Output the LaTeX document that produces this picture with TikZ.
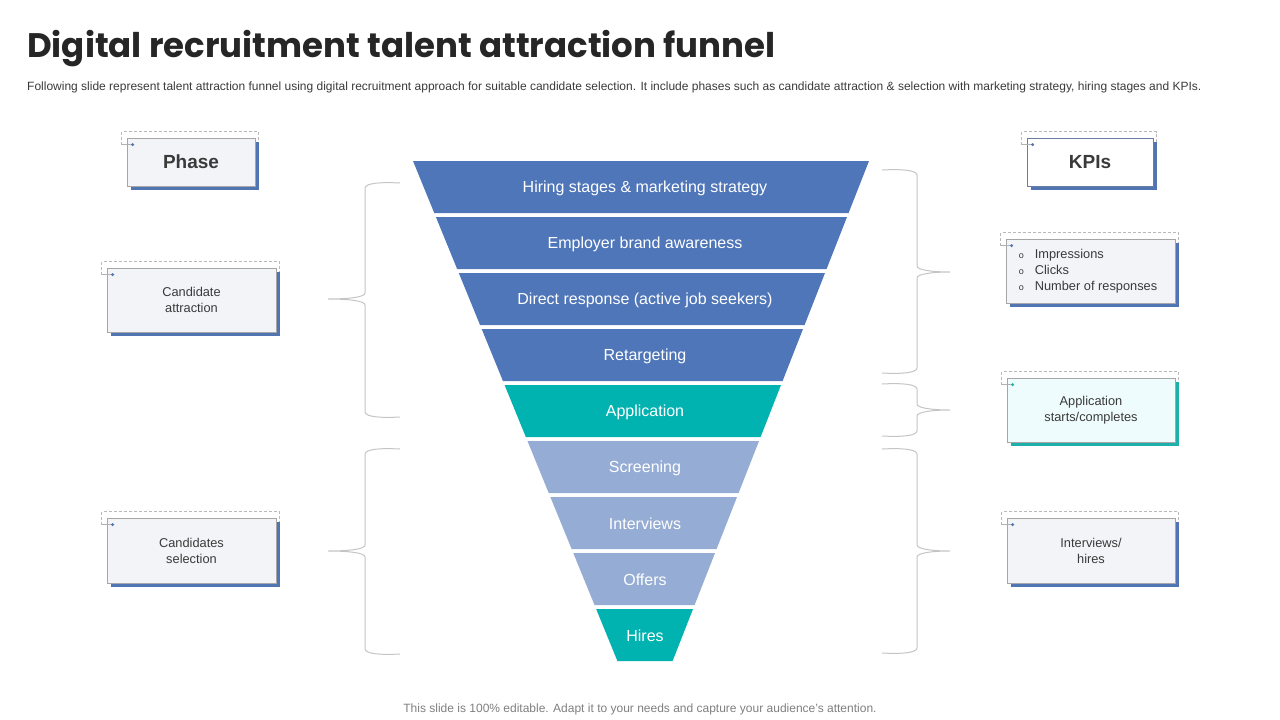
\documentclass[tikz,border=0pt]{standalone}
\usepackage{fontspec}
\setmainfont{Liberation Sans}
\newfontfamily\titlefont{Poppins}
\usetikzlibrary{calc}
\pgfdeclarelayer{background}
\pgfsetlayers{background,main}
\definecolor{fdark}{HTML}{4F76B8}
\definecolor{fteal}{HTML}{00B2B0}
\definecolor{flight}{HTML}{95ACD4}
\definecolor{shblue}{HTML}{5175B3}
\definecolor{shteal}{HTML}{1FB0AB}
\definecolor{boxfill}{HTML}{F3F4F8}
\definecolor{appfill}{HTML}{EFFCFD}
\definecolor{boxline}{HTML}{A6A6A6}
\definecolor{kpiline}{HTML}{6A7C9F}
\definecolor{txtdark}{HTML}{3A3A3A}
\definecolor{titlecol}{HTML}{262626}
\definecolor{bracecol}{HTML}{C4C4C4}
\definecolor{foot}{HTML}{7F7F7F}

\tikzset{
  ftext/.style={text=white, font=\fontsize{16pt}{19pt}\selectfont, inner sep=0pt},
  infobox/.style={draw=boxline, line width=0.7pt, fill=boxfill, inner sep=0pt,
     text=txtdark, align=center, font=\fontsize{12.8pt}{16pt}\selectfont},
  headbox/.style={infobox, font=\fontsize{19pt}{22pt}\selectfont\bfseries},
  dashframe/.style={draw=gray!55, line width=0.6pt, dash pattern=on 3pt off 2pt},
  bracel/.style={draw=bracecol, line width=1pt}
}

\newcommand\boxdeco[3]{%
  \begin{pgfonlayer}{background}
    \draw[dashframe] ([shift={(-5,7)}]#1.north west) -- ([shift={(-5,-6)}]#1.north west)
       -- ([shift={(3,-6)}]#1.north east) -- ([shift={(3,6)}]#1.north east);
    \fill[#2] ([shift={(4,4)}]#1.north west) rectangle ([shift={(4,4)}]#1.south east);
  \end{pgfonlayer}
  \draw[gray!60, line width=0.5pt] ([shift={(-5,7)}]#1.north west) -- ([shift={(6,7)}]#1.north west);
  \fill[#3] ([shift={(6,7)}]#1.north west) circle (1.6pt);
}

% left brace: #1 top y, #2 bottom y, #3 tip y
\newcommand\myLbrace[3]{%
  \draw[bracel] (400,#1) .. controls (380,#1-1) and (366,#1) .. (365,#1+5)
    -- (365,#3-6) .. controls (365,#3-2) and (350,#3) .. (328,#3)
    .. controls (350,#3) and (365,#3+2) .. (365,#3+6)
    -- (365,#2-5) .. controls (366,#2) and (380,#2+1) .. (400,#2);
}
\newcommand\myRbrace[3]{%
  \draw[bracel] (882,#1) .. controls (902,#1-1) and (916,#1) .. (917,#1+5)
    -- (917,#3-6) .. controls (917,#3-2) and (932,#3) .. (950,#3)
    .. controls (932,#3) and (917,#3+2) .. (917,#3+6)
    -- (917,#2-5) .. controls (916,#2) and (902,#2+1) .. (882,#2);
}

\begin{document}
\begin{tikzpicture}[x=1pt,y=-1pt]
\useasboundingbox (0,0) rectangle (1280,720);

% title and subtitle
\node[anchor=base west, inner sep=0pt, text=titlecol] (title) at (27,57)
  {\titlefont\bfseries\fontsize{34pt}{37pt}\selectfont Digital recruitment talent attraction funnel};
\node[anchor=base west, inner sep=0pt, text=txtdark] (sub) at (27,90)
  {\fontsize{12pt}{14pt}\selectfont Following slide represent talent attraction funnel using digital recruitment approach for suitable candidate selection. It include phases such as candidate attraction \& selection with marketing strategy, hiring stages and KPIs.};

% funnel
\foreach \i/\t/\c/\s in {
  1/161/fdark/Hiring stages \& marketing strategy,
  2/217/fdark/Employer brand awareness,
  3/273/fdark/Direct response (active job seekers),
  4/329/fdark/Retargeting,
  5/385/fteal/Application,
  6/441/flight/Screening,
  7/497/flight/Interviews,
  8/553/flight/Offers,
  9/609/fteal/Hires}{
  \pgfmathsetmacro\b{\t+52}
  \pgfmathsetmacro\lt{413+(\t-161)*0.40882}
  \pgfmathsetmacro\lb{413+(\b-161)*0.40882}
  \pgfmathsetmacro\rt{869-(\t-161)*0.39279}
  \pgfmathsetmacro\rb{869-(\b-161)*0.39279}
  \fill[\c] (\lt,\t) -- (\rt,\t) -- (\rb,\b) -- (\lb,\b) -- cycle;
  \node[ftext] (f\i) at (645,\t+27) {\s};
}

% braces
\myLbrace{183}{417}{299}
\myLbrace{449}{654}{551}
\myRbrace{170}{373}{272}
\myRbrace{384}{436}{410}
\myRbrace{449}{653}{551}

% left boxes
\node[headbox, minimum width=128pt, minimum height=48pt] (phase) at (191,162) {Phase};
\boxdeco{phase}{shblue}{shblue}
\node[infobox, minimum width=169pt, minimum height=64pt] (cattr) at (191.5,300) {Candidate\\attraction};
\boxdeco{cattr}{shblue}{shblue}
\node[infobox, minimum width=169pt, minimum height=65pt] (csel) at (191.5,550.5) {Candidates\\selection};
\boxdeco{csel}{shblue}{shblue}

% right boxes
\node[headbox, draw=kpiline, fill=white, minimum width=126pt, minimum height=48pt] (kpis) at (1090,162) {KPIs};
\boxdeco{kpis}{shblue}{shblue}
\node[infobox, minimum width=169pt, minimum height=64pt] (kimp) at (1090.5,271) {};
\boxdeco{kimp}{shblue}{shblue}
\node[anchor=west, inner sep=0pt, text=txtdark, align=left, font=\fontsize{12.8pt}{16pt}\selectfont] (kimptxt) at ([xshift=13pt]kimp.west)
  {\makebox[16pt][l]{\small o}Impressions\\ \makebox[16pt][l]{\small o}Clicks\\ \makebox[16pt][l]{\small o}Number of responses};
\node[infobox, fill=appfill, minimum width=168pt, minimum height=64pt] (kapp) at (1091,410) {Application\\starts/completes};
\boxdeco{kapp}{shteal}{shteal}
\node[infobox, minimum width=168pt, minimum height=65pt] (khire) at (1091,550.5) {Interviews/\\hires};
\boxdeco{khire}{shblue}{shblue}

% footer
\node[anchor=base, inner sep=0pt, text=foot, font=\fontsize{12pt}{14pt}\selectfont] (foot) at (640,712)
  {This slide is 100\% editable. Adapt it to your needs and capture your audience's attention.};
\end{tikzpicture}
\end{document}
